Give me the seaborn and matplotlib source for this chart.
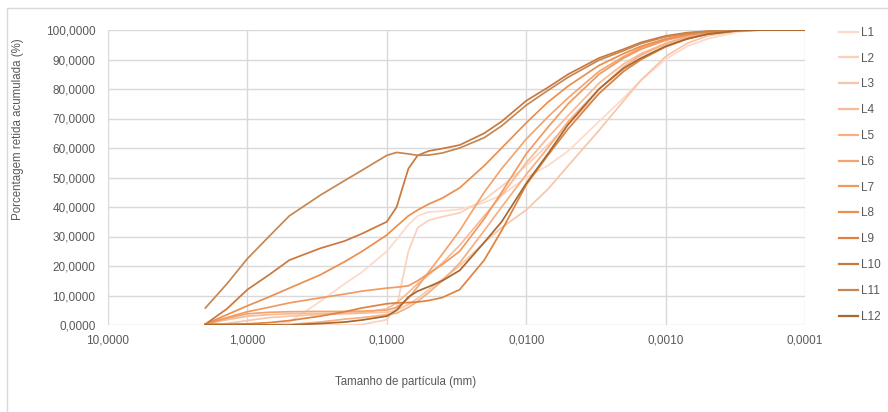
import numpy as np
import pandas as pd
import matplotlib
matplotlib.use("Agg")
import matplotlib.pyplot as plt
from matplotlib.ticker import FuncFormatter, FixedLocator, NullLocator
from matplotlib.patches import Rectangle
import seaborn as sns

# Particle sizes (mm) at which the cumulative retained percentage is given
sizes = [2, 1.4, 1, 0.7, 0.5, 0.3, 0.2, 0.15, 0.1, 0.085, 0.07, 0.06, 0.05, 0.04,
         0.03, 0.02, 0.015, 0.01, 0.007, 0.005, 0.003, 0.002, 0.0015, 0.001,
         0.0007, 0.0005, 0.0003, 0.0002, 0.0001]

L1 = [0, 0, 0, 0, 1, 8, 14, 18, 25, 29, 34, 37, 38.3, 38.6, 39.2, 41.5, 44, 50,
      54, 59, 69, 77, 83, 90, 94.5, 97, 99.4, 100, 100]
L2 = [0, 0, 0, 0, 0, 0, 0, 0.2, 1.8, 6, 25, 33, 35.5, 36.7, 38, 42.5, 47, 54,
      61, 68, 78.5, 86, 90, 94.5, 97, 98.7, 99.8, 100, 100]
L3 = [0, 0.5, 1.5, 2.5, 3, 3.5, 3.8, 4, 4.3, 5, 7, 9, 12, 15.5, 20, 28, 33, 39,
      46, 54, 66, 76, 83, 91, 95.5, 98, 99.7, 100, 100]
L4 = [0.3, 1.8, 3, 3.5, 3.8, 3.9, 4, 4.2, 5.5, 7.5, 11, 14, 17, 21, 27, 37, 44,
      55, 63.5, 71, 82, 88.5, 92, 95.5, 97.8, 99, 99.9, 100, 100]
L5 = [0, 0, 0, 0, 0.2, 1, 2, 2.5, 3.5, 4, 6, 8, 11, 15, 21, 32, 40, 51, 60, 69,
      80, 87.5, 91.5, 95.3, 97.6, 98.9, 99.9, 100, 100]
L6 = [0.3, 2.3, 3.8, 4.3, 4.5, 4.6, 4.6, 4.7, 5, 6, 9, 13, 18, 24, 32, 45, 53,
      63, 70.5, 77, 86, 91, 94, 96.8, 98.4, 99.3, 99.9, 100, 100]
L7 = [0.3, 2.5, 4.5, 6, 7.5, 9.2, 10.5, 11.5, 12.5, 12.8, 13.3, 15, 17.5, 20.5,
      25, 36, 45, 58, 67, 75, 85, 90.5, 93.5, 96.5, 98.2, 99.2, 99.9, 100, 100]
L8 = [0.3, 3.5, 6.5, 9.5, 12.5, 17, 21.5, 25, 30.5, 33.5, 37, 39, 41, 43, 46.5,
      54, 60, 68.5, 75.5, 81, 88, 92, 94.5, 97, 98.5, 99.4, 99.9, 100, 100]
L9 = [0.3, 0.3, 0.4, 0.8, 1.5, 3, 4.5, 5.8, 7.2, 7.5, 7.6, 7.8, 8.3, 9.3, 12,
      22, 32, 47.5, 57.5, 66.5, 78.5, 86, 90, 94.3, 97, 98.6, 99.8, 100, 100]
L10 = [0.3, 5.5, 12, 17, 22, 26, 28.5, 31, 35, 40, 53, 57.5, 59, 59.8, 61, 65,
       69, 76, 80.5, 85, 90.5, 93.5, 95.8, 98, 99.1, 99.6, 100, 100, 100]
L11 = [5.8, 14, 22.5, 30, 37, 44, 49, 52.5, 57.5, 58.5, 58, 57.5, 57.6, 58.3,
       60, 63.5, 67.5, 74.5, 79.5, 84, 89.8, 93, 95.4, 97.7, 98.9, 99.5, 100,
       100, 100]
L12 = [0, 0, 0, 0, 0, 0.5, 1, 1.7, 3, 5, 9.5, 11.5, 13, 15, 18.5, 28, 35, 48,
       58, 68, 80, 87, 90.5, 94.5, 97, 98.6, 99.8, 100, 100]

series = {"L1": L1, "L2": L2, "L3": L3, "L4": L4, "L5": L5, "L6": L6,
          "L7": L7, "L8": L8, "L9": L9, "L10": L10, "L11": L11, "L12": L12}

colors = ["#fcdacb", "#fbd1bc", "#f9c5a8", "#f8ba95", "#f6af82", "#f4a46e",
          "#f19a5f", "#ec8e4d", "#df8241", "#c9783e", "#c68752", "#a7682f"]

df = pd.concat(
    [pd.DataFrame({"size": sizes, "pct": vals, "amostra": name})
     for name, vals in series.items()],
    ignore_index=True,
)

plt.rcParams["font.family"] = ["Liberation Sans", "DejaVu Sans"]
fig = plt.figure(figsize=(8.88, 4.12), dpi=100)
ax = fig.add_axes([108 / 888, 1 - 325 / 412, (805 - 108) / 888, (325 - 30) / 412])

sns.lineplot(data=df, x="size", y="pct", hue="amostra", palette=colors,
             estimator=None, sort=False, linewidth=1.25, ax=ax, legend=True)

ax.set_xscale("log")
ax.set_xlim(10, 0.0001)
ax.set_ylim(0, 100)

fmt = FuncFormatter(lambda v, p: f"{v:.4f}".replace(".", ","))
ax.xaxis.set_major_locator(FixedLocator([10, 1, 0.1, 0.01, 0.001, 0.0001]))
ax.xaxis.set_minor_locator(NullLocator())
ax.yaxis.set_major_locator(FixedLocator(np.arange(0, 101, 10)))
ax.xaxis.set_major_formatter(fmt)
ax.yaxis.set_major_formatter(fmt)

grey = "#d9d9d9"
ax.grid(True, color=grey, linewidth=1.0)
ax.set_axisbelow(True)
for s in ax.spines.values():
    s.set_visible(False)
ax.tick_params(length=0, labelsize=8.5, labelcolor="#595959")
ax.tick_params(axis="y", pad=9)
ax.tick_params(axis="x", pad=7)
ax.set_xlabel("")
ax.set_ylabel("")

fig.text(18 / 888, 1 - 129 / 412, "Porcentagem retida acumulada (%)",
         rotation=90, ha="center", va="center", fontsize=8.3, color="#595959")
fig.text(406 / 888, 1 - 382 / 412, "Tamanho de partícula (mm)",
         ha="center", va="center", fontsize=8.3, color="#595959")

handles, labels = ax.get_legend_handles_labels()
leg = ax.legend(handles, labels, loc="upper left",
                bbox_to_anchor=(834 / 888, 1 - 22 / 412),
                bbox_transform=fig.transFigure, frameon=False,
                fontsize=8.5, handlelength=1.6, handletextpad=0.25,
                labelspacing=1.17, borderaxespad=0)
for t in leg.get_texts():
    t.set_color("#595959")
for h in leg.get_lines():
    h.set_linewidth(1.6)

# chart frame
fig.add_artist(Rectangle((7 / 888, -0.05), 1.0, 1.05 - 8 / 412,
                         transform=fig.transFigure, fill=False,
                         edgecolor=grey, linewidth=1.0, clip_on=False))

fig.savefig("out.png", dpi=100)
